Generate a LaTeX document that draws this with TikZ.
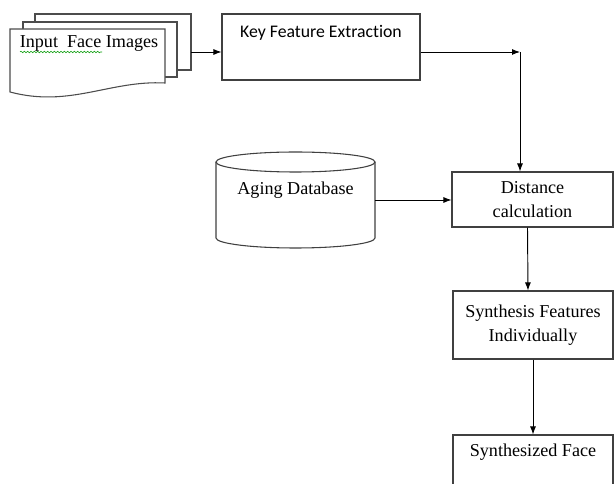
\documentclass[tikz,border=0pt]{standalone}
\usepackage{fontspec}
\setmainfont{Liberation Serif}
\newfontfamily\calibri[Ligatures=NoCommon]{Carlito}
\usetikzlibrary{arrows.meta}
\usetikzlibrary{decorations.pathmorphing}

\begin{document}
\begin{tikzpicture}[x=0.75pt, y=-0.75pt, font=\fontsize{13.6}{18}\selectfont,
        box/.style = {draw=black!75, line width=0.8pt, fill=white, inner sep=0pt},
        sheet/.style = {draw=black!70, line width=0.8pt, fill=white},
        arr/.style = {-{Latex[length=6pt,width=4.5pt]}, line width=0.7pt}]
        \clip (0,0) rectangle (614,484);
        % Document stack
        \draw[sheet] (35,14) rectangle (191,70);
        \draw[sheet] (23,22) rectangle (177,77);
        \draw[sheet] (10,29) -- (165,29) -- (165,83) .. controls (110,80) and (70,108) .. (10,92) -- cycle;
        \coordinate (stack) at (191,52);
        \coordinate (turn) at (520,52);
        % Database cylinder
        \draw[box] (216,162) -- (216,238) arc[start angle=180, end angle=0, x radius=79.5, y radius=10] -- (375,162);
        \draw[box] (295.5,162) ellipse [x radius=79.5, y radius=10];
        % Nodes
        \node[anchor=base] (docs) at (89,48) {Input~~Face Images};
        \draw[green!60!black, line width=0.4pt, decorate,
              decoration={snake, amplitude=0.6pt, segment length=2.5pt}] (20,52) -- (102,52);
        \node[box, minimum width=148.5pt, minimum height=49.5pt,
              label={[anchor=base, yshift=-18pt, font=\calibri\fontsize{13.3}{16}\selectfont]north:Key Feature Extraction}] (key) at (321,47) {};
        \node[minimum width=119.25pt, minimum height=72pt, inner sep=0pt,
              label={[anchor=base, yshift=-32.25pt]north:Aging Database}] (db) at (295.5,200) {};
        \node[box, minimum width=120.75pt, minimum height=41.25pt, align=center] (dist) at (532.5,199.5) {Distance\\calculation};
        \node[box, minimum width=120pt, minimum height=51pt, align=center] (syn) at (533,325) {Synthesis Features\\Individually};
        \node[box, minimum width=120pt, minimum height=48.75pt,
              label={[anchor=base, yshift=-16.5pt]north:Synthesized Face}] (face) at (533,467.5) {};
        % Edges
        \draw[arr] (stack) -- (stack -| key.west);
        \draw[arr] (key.east |- turn) -- (turn);
        \draw[arr] (turn) -- (turn |- dist.north);
        \draw[arr] (db.east) -- (db.east -| dist.west);
        \draw[arr] ([xshift=-3.75pt]dist.south) -- ([xshift=-3.75pt]syn.north);
        \draw[arr] (syn.south) -- (face.north);
\end{tikzpicture}
\end{document}
